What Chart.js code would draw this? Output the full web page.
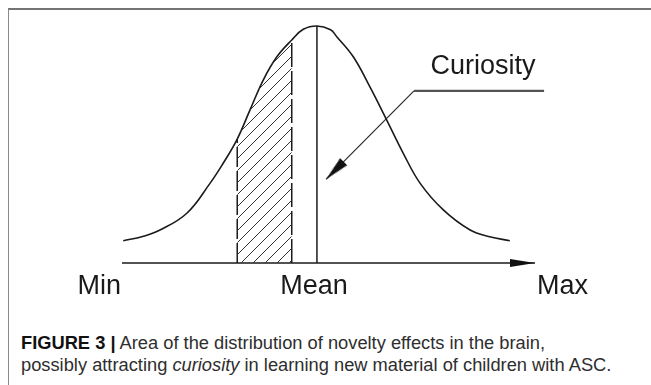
<!DOCTYPE html>
<html>
<head>
<meta charset="utf-8">
<script src="https://cdn.jsdelivr.net/npm/chart.js@4"></script>
<style>
  html, body { margin: 0; padding: 0; background: #fff; }
  body { width: 651px; height: 385px; position: relative; overflow: hidden; font-family: "Liberation Sans", Arial, sans-serif; }
  .frame { position: absolute; left: 8px; top: 8px; right: -4px; bottom: -4px; border-top: 2px solid #747474; border-left: 1.5px solid #8a8a8a; }
  #wrap { position: absolute; left: 0; top: 0; width: 651px; height: 300px; }
  .caption { position: absolute; left: 21px; top: 332px; font-size: 18.3px; line-height: 22px; color: #2e2e2e; white-space: nowrap; }
  .caption b { color: #111; }
</style>
</head>
<body>
<div class="frame"></div>
<div id="wrap"><canvas id="c" width="651" height="300"></canvas></div>
<div class="caption"><b>FIGURE 3 |</b> Area of the distribution of novelty effects in the brain,<br>possibly attracting <i>curiosity</i> in learning new material of children with ASC.</div>
<script>
// distribution curve (x: Min=0 .. Max=100, y: peak=100)
const curveX = [0.3, 5, 9.2, 15.7, 21.3, 24.5, 27.9, 31, 34.2, 37.5, 41.1, 43.9, 47.2, 50.5, 52, 56, 60, 64.1, 68.1, 72.2, 77.8, 84.3, 89, 93.9];
const curveY = [9.4, 11.2, 13.9, 21, 33.6, 42.1, 52.3, 64.6, 77.2, 87, 94.1, 98.6, 100, 98.4, 95.5, 87, 74.4, 60.3, 46.3, 33.6, 22.4, 13.9, 11.1, 9.4];

// hatched band (left of the mean)
const hatchX = [27.9, 31, 34.2, 37.5, 41.1];
const hatchY = [52.3, 64.6, 77.2, 87, 94.1];

const meanX = 47.2, meanTop = 100;
const axisFrom = 0, axisTo = 100;

// "Curiosity" leader: elbow, right end, arrow tip
const leaderElbow = [70.7, 72.6];
const leaderEndX = 102.2;
const leaderTip = [49.4, 35.3];

const axisLabels = ['Min', 'Mean', 'Max'];
const axisLabelX = [0, 47.2, 100];
const axisLabelAlign = ['right', 'center', 'left'];
const noteText = 'Curiosity';
const notePos = [74.7, 79.6];

const pts = (xs, ys) => xs.map((x, i) => ({ x, y: ys[i] }));

// arrowhead as point style, tip at the canvas centre
function arrowHead(len, half) {
  const c = document.createElement('canvas');
  c.width = len * 2; c.height = half * 2 + 2;
  const g = c.getContext('2d');
  g.fillStyle = '#111';
  g.beginPath(); g.moveTo(0, 1); g.lineTo(len, half + 1); g.lineTo(0, half * 2 + 1); g.closePath(); g.fill();
  return c;
}
function hatch() {
  const c = document.createElement('canvas');
  c.width = 12; c.height = 12;
  const g = c.getContext('2d');
  g.strokeStyle = '#333'; g.lineWidth = 1;
  g.beginPath(); g.moveTo(-1, 13); g.lineTo(13, -1); g.stroke();
  g.beginPath(); g.moveTo(-1, 1); g.lineTo(1, -1); g.stroke();
  g.beginPath(); g.moveTo(11, 13); g.lineTo(13, 11); g.stroke();
  return g.createPattern(c, 'repeat');
}
const ctx = document.getElementById('c').getContext('2d');
const axisArrow = arrowHead(25, 4);
const leadArrow = arrowHead(25, 5);

const textPlugin = {
  id: 'texts',
  afterDatasetsDraw(chart) {
    const { ctx: g, scales: { x, y } } = chart;
    g.save();
    g.fillStyle = '#1a1a1a';
    g.font = '27px "Liberation Sans", Arial, sans-serif';
    g.textBaseline = 'alphabetic';
    axisLabels.forEach((t, i) => {
      g.textAlign = axisLabelAlign[i];
      g.fillText(t, x.getPixelForValue(axisLabelX[i]) + (i === 0 ? -1 : i === 1 ? -3 : 2), y.getPixelForValue(0) + 31);
    });
    g.textAlign = 'left';
    g.fillText(noteText, x.getPixelForValue(notePos[0]), y.getPixelForValue(notePos[1]));
    g.restore();
  }
};

const line = (data, extra) => Object.assign({ data, borderColor: '#1a1a1a', borderWidth: 1.5, pointRadius: 0, fill: false, clip: false }, extra);

new Chart(ctx, {
  type: 'line',
  data: {
    datasets: [
      line(pts(hatchX, hatchY), { fill: 'origin', backgroundColor: hatch(), borderWidth: 0, tension: 0.4 }),
      line(pts(curveX, curveY), { tension: 0.4, borderWidth: 1.6 }),
      line([{ x: hatchX[0], y: 0 }, { x: hatchX[0], y: hatchY[0] }], { borderDash: [20, 4] }),
      line([{ x: hatchX[4], y: 0 }, { x: hatchX[4], y: hatchY[4] }], { borderDash: [24, 4] }),
      line([{ x: meanX, y: 0 }, { x: meanX, y: meanTop }]),
      line([{ x: axisFrom, y: 0 }, { x: axisTo, y: 0 }], { pointStyle: axisArrow, pointRadius: [0, 1] }),
      line([{ x: leaderElbow[0], y: leaderElbow[1] }, { x: leaderEndX, y: leaderElbow[1] }], { borderColor: '#555', borderWidth: 2.2 }),
      line([{ x: leaderElbow[0], y: leaderElbow[1] }, { x: leaderTip[0], y: leaderTip[1] }], { borderColor: '#2a2a2a', borderWidth: 1.2, pointStyle: leadArrow, pointRadius: [0, 1], pointRotation: 135 })
    ]
  },
  options: {
    responsive: false,
    animation: false,
    layout: { padding: { left: 122, right: 116, top: 26, bottom: 37 } },
    plugins: { legend: { display: false }, tooltip: { enabled: false } },
    scales: {
      x: { type: 'linear', min: 0, max: 100, display: false },
      y: { min: 0, max: 100, display: false }
    }
  },
  plugins: [textPlugin]
});
</script>
</body>
</html>
